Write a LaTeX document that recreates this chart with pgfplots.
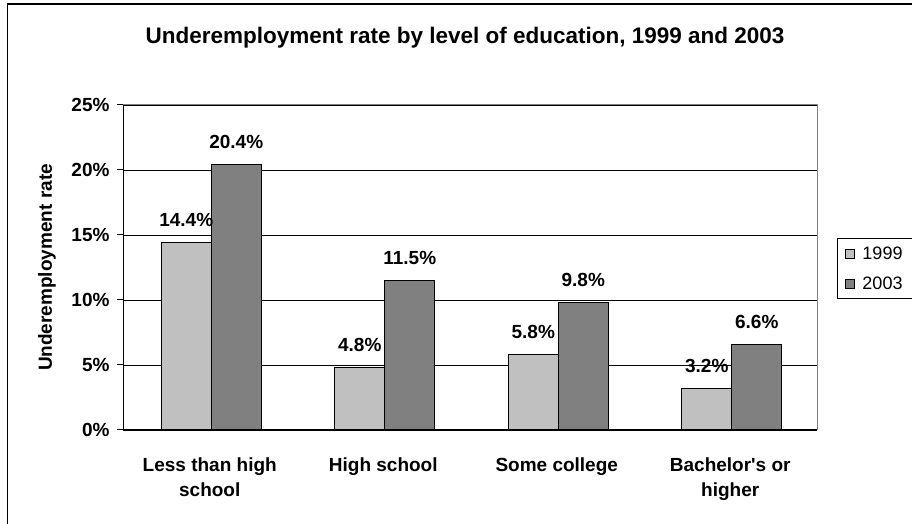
\documentclass[border=0pt]{standalone}
\usepackage{pgfplots}
\pgfplotsset{compat=1.18}
\usepackage{fontspec}
\setmainfont{Liberation Sans}
\definecolor{cA}{HTML}{C0C0C0}
\definecolor{cB}{HTML}{808080}
\begin{document}
\begin{tikzpicture}[x=1pt,y=1pt]
\clip (0,0) rectangle (912,524);
\fill[white] (0,0) rectangle (912,524);
\draw[line width=1.5pt] (7.5,-5) -- (7.5,520) -- (930,520);
\node[anchor=base, font=\bfseries\fontsize{22.5}{27}\selectfont] at (465,480) {Underemployment rate by level of education, 1999 and 2003};
\begin{axis}[
  at={(123pt,94pt)}, anchor=south west,
  scale only axis, width=694pt, height=325pt,
  ybar=0pt, bar width=50pt,
  xmin=-0.5, xmax=3.5, ymin=0, ymax=25,
  /pgf/number format/assume math mode=true,
  xtick={0,1,2,3},
  xticklabels={Less than high\\school, High school, Some college, Bachelor\textquotesingle s or\\higher},
  x tick label style={align=center, font=\bfseries\fontsize{19}{25}\selectfont, yshift=-18pt},
  major x tick style={draw=none},
  extra x ticks={-0.5,0.5,1.5,2.5,3.5},
  extra x tick labels={},
  extra x tick style={xmajorgrids=false, major tick length=6pt, tick align=outside, xtick pos=left, major tick style={draw=black, line width=1pt}},
  ytick={0,5,10,15,20,25},
  yticklabels={0\%,5\%,10\%,15\%,20\%,25\%},
  y tick label style={font=\bfseries\fontsize{19}{23}\selectfont, xshift=-4pt},
  ytick pos=left, tick align=outside, major tick length=6pt,
  major y tick style={draw=black, line width=1pt},
  ymajorgrids, grid style={black, line width=0.9pt},
  axis line style={draw=cB, line width=1pt},
  ylabel={Underemployment rate},
  ylabel style={at={(rel axis cs:0,0.5)}, anchor=center, yshift=76pt, font=\bfseries\fontsize{19}{23}\selectfont},
  nodes near coords={\pgfmathprintnumber[fixed,fixed zerofill,precision=1]{\pgfplotspointmeta}\%},
  every node near coord/.append style={font=\bfseries\fontsize{19}{23}\selectfont, anchor=south, inner sep=0pt, yshift=15pt},
  legend style={at={(1.0288,0.5908)}, anchor=north west, draw=black, line width=1pt,
    font=\fontsize{18}{22}\selectfont, inner xsep=8pt, inner ysep=6pt, row sep=12pt, column sep=5pt},
  legend cell align=left,
]
\addplot[fill=cA, draw=black, line width=1.3pt, bar shift=-23.5pt,
  legend image code/.code={\draw[fill=cA, draw=black, line width=1pt] (0pt,-4.5pt) rectangle (9pt,4.5pt);}]
  coordinates {(0,14.4) (1,4.8) (2,5.8) (3,3.2)};
\addlegendentry{1999}
\addplot[fill=cB, draw=black, line width=1.3pt, bar shift=26.5pt,
  legend image code/.code={\draw[fill=cB, draw=black, line width=1pt] (0pt,-4.5pt) rectangle (9pt,4.5pt);}]
  coordinates {(0,20.4) (1,11.5) (2,9.8) (3,6.6)};
\addlegendentry{2003}
\draw[black, line width=1.3pt] (rel axis cs:0,1) -- (rel axis cs:0,0) -- (rel axis cs:1,0);
\end{axis}
\end{tikzpicture}
\end{document}
